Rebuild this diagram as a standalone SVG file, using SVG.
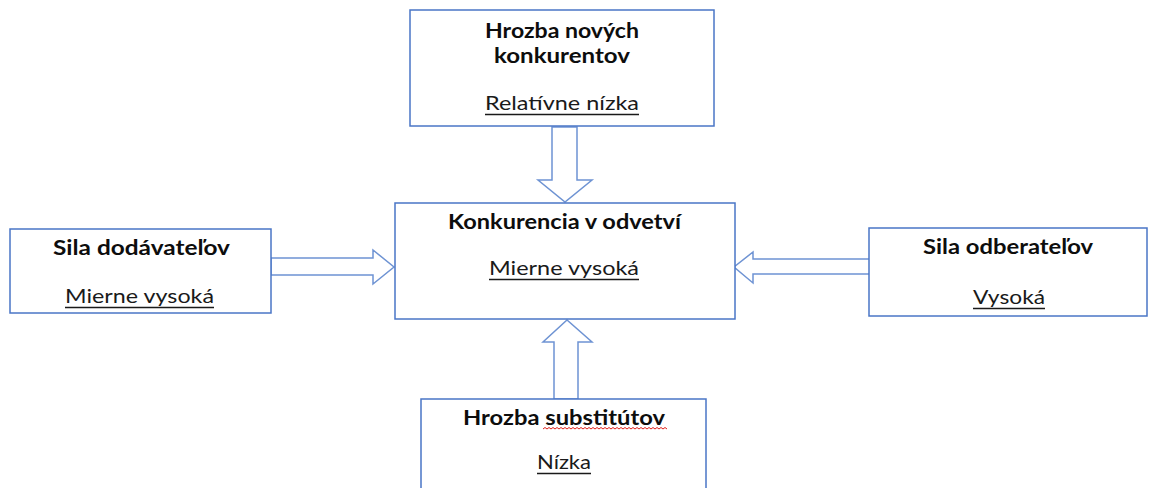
<svg xmlns="http://www.w3.org/2000/svg" width="1149" height="488" viewBox="0 0 1149 488">
  <style>
    .box { fill: #ffffff; stroke: #4a76c6; stroke-width: 1.5; }
    .arrow { fill: #ffffff; stroke: #6e93d3; stroke-width: 1.5; stroke-linejoin: miter; }
    .title { font-family: "Lato", "Liberation Sans", sans-serif; font-weight: bold; font-size: 20px; fill: #0d0d0d; text-anchor: middle; }
    .value { font-family: "Lato", "Liberation Sans", sans-serif; font-size: 20px; fill: #1a1a1a; text-anchor: middle; }
    .uline { stroke: #1a1a1a; stroke-width: 1.3; }
    .spell { fill: none; stroke: #e0201a; stroke-width: 1; }
  </style>
  <rect width="1149" height="488" fill="#ffffff"/>

  <!-- connectors: hollow block arrows pointing at the central box -->
  <g id="connectors">
    <polygon class="arrow" points="552,127 577,127 577,180 592,180 565,202 538,180 552,180"/>
    <polygon class="arrow" points="271,258 373,258 373,250 394,267 373,284 373,275 271,275"/>
    <polygon class="arrow" points="872,259 753,259 753,252 734,267 753,283 753,274 872,274"/>
    <polygon class="arrow" points="554,399 554,342 543,342 567,320 592,342 578,342 578,399"/>
  </g>

  <g id="node-new-entrants">
    <rect class="box" x="410" y="10" width="304" height="116"/>
    <text class="title" x="562" y="38" textLength="154" lengthAdjust="spacingAndGlyphs">Hrozba nových</text>
    <text class="title" x="562" y="63" textLength="136" lengthAdjust="spacingAndGlyphs">konkurentov</text>
    <text class="value" x="562" y="110" textLength="154" lengthAdjust="spacingAndGlyphs">Relatívne nízka</text>
    <line class="uline" x1="485" y1="114.5" x2="639" y2="114.5"/>
  </g>

  <g id="node-rivalry">
    <rect class="box" x="395" y="203" width="340" height="116"/>
    <text class="title" x="564.5" y="229" textLength="233" lengthAdjust="spacingAndGlyphs">Konkurencia v odvetví</text>
    <text class="value" x="564" y="275" textLength="150" lengthAdjust="spacingAndGlyphs">Mierne vysoká</text>
    <line class="uline" x1="489" y1="279.5" x2="639" y2="279.5"/>
  </g>

  <g id="node-suppliers">
    <rect class="box" x="10" y="229" width="261" height="84"/>
    <text class="title" x="141.5" y="255" textLength="177" lengthAdjust="spacingAndGlyphs">Sila dodávateľov</text>
    <text class="value" x="139.5" y="303" textLength="149" lengthAdjust="spacingAndGlyphs">Mierne vysoká</text>
    <line class="uline" x1="65" y1="307.5" x2="214" y2="307.5"/>
  </g>

  <g id="node-buyers">
    <rect class="box" x="869" y="228" width="278" height="88"/>
    <text class="title" x="1008" y="254" textLength="170" lengthAdjust="spacingAndGlyphs">Sila odberateľov</text>
    <text class="value" x="1009" y="304" textLength="72" lengthAdjust="spacingAndGlyphs">Vysoká</text>
    <line class="uline" x1="973" y1="308.5" x2="1045" y2="308.5"/>
  </g>

  <g id="node-substitutes">
    <rect class="box" x="421" y="399" width="285" height="100"/>
    <text class="title" x="564" y="425" textLength="202" lengthAdjust="spacingAndGlyphs">Hrozba substitútov</text>
    <path class="spell" d="M543,429 l2,-1.5 l2,1.5 l2,-1.5 l2,1.5 l2,-1.5 l2,1.5 l2,-1.5 l2,1.5 l2,-1.5 l2,1.5 l2,-1.5 l2,1.5 l2,-1.5 l2,1.5 l2,-1.5 l2,1.5 l2,-1.5 l2,1.5 l2,-1.5 l2,1.5 l2,-1.5 l2,1.5 l2,-1.5 l2,1.5 l2,-1.5 l2,1.5 l2,-1.5 l2,1.5 l2,-1.5 l2,1.5 l2,-1.5 l2,1.5 l2,-1.5 l2,1.5 l2,-1.5 l2,1.5 l2,-1.5 l2,1.5 l2,-1.5 l2,1.5 l2,-1.5 l2,1.5 l2,-1.5 l2,1.5 l2,-1.5 l2,1.5 l2,-1.5 l2,1.5 l2,-1.5 l2,1.5 l2,-1.5 l2,1.5 l2,-1.5 l2,1.5 l2,-1.5 l2,1.5 l2,-1.5 l2,1.5 l2,-1.5 l2,1.5 l2,-1.5 l2,1.5"/>
    <text class="value" x="564" y="469" textLength="54" lengthAdjust="spacingAndGlyphs">Nízka</text>
    <line class="uline" x1="537" y1="473.5" x2="591" y2="473.5"/>
  </g>
</svg>
